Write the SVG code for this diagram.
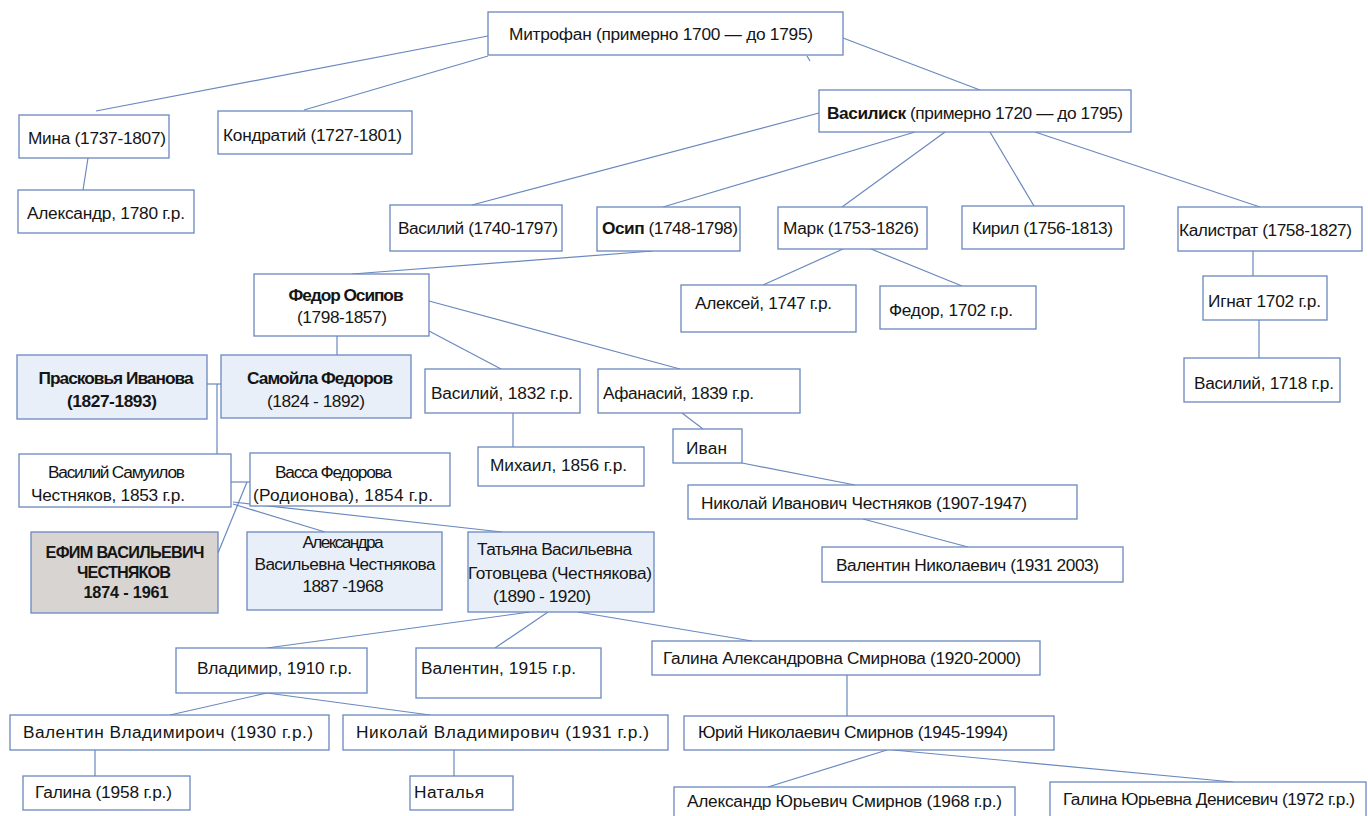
<svg xmlns="http://www.w3.org/2000/svg" width="1368" height="816" viewBox="0 0 1368 816">
<style>
rect{stroke:#6a88bf;stroke-width:1.3}
.w{fill:#ffffff}
.lb{fill:#e9eff8}
.g{fill:#d7d4d1}
text{font-family:"Liberation Sans",Arial,sans-serif;font-size:17.3px;fill:#151515}
.b{font-weight:bold}
.m{text-anchor:middle}
.cap{font-size:16.3px}
#connectors line{stroke:#6a88bf;stroke-width:1.2}
</style>
<g id="connectors">
<line x1="488" y1="36" x2="96" y2="111"/>
<line x1="488" y1="56" x2="304" y2="110"/>
<line x1="807" y1="56" x2="810" y2="61"/>
<line x1="843" y1="38" x2="980" y2="90"/>
<line x1="88" y1="158" x2="83" y2="190"/>
<line x1="819" y1="113" x2="472" y2="205"/>
<line x1="915" y1="132" x2="663" y2="207"/>
<line x1="945" y1="132" x2="842" y2="207"/>
<line x1="990" y1="132" x2="1034" y2="206"/>
<line x1="1035" y1="132" x2="1260" y2="207"/>
<line x1="843" y1="249" x2="763" y2="285"/>
<line x1="871" y1="249" x2="962" y2="286"/>
<line x1="1253" y1="251" x2="1253" y2="276"/>
<line x1="1259" y1="320" x2="1259" y2="358"/>
<line x1="653" y1="251" x2="352" y2="274"/>
<line x1="337" y1="336" x2="337" y2="355"/>
<line x1="429" y1="301" x2="680" y2="369"/>
<line x1="429" y1="331" x2="501" y2="369"/>
<line x1="207" y1="384" x2="221" y2="384"/>
<line x1="217" y1="384" x2="217" y2="454"/>
<line x1="513" y1="413" x2="513" y2="447"/>
<line x1="682" y1="413" x2="703" y2="429"/>
<line x1="742" y1="463" x2="855" y2="485"/>
<line x1="863" y1="519" x2="968" y2="547"/>
<line x1="231" y1="482" x2="250" y2="482"/>
<line x1="247" y1="482" x2="218" y2="553"/>
<line x1="233" y1="504" x2="325" y2="532"/>
<line x1="233" y1="502" x2="502" y2="532"/>
<line x1="530" y1="612" x2="267" y2="648"/>
<line x1="548" y1="612" x2="495" y2="648"/>
<line x1="578" y1="612" x2="752" y2="641"/>
<line x1="267" y1="693" x2="170" y2="715"/>
<line x1="267" y1="693" x2="430" y2="715"/>
<line x1="95" y1="750" x2="95" y2="776"/>
<line x1="454" y1="750" x2="454" y2="776"/>
<line x1="847" y1="675" x2="847" y2="716"/>
<line x1="887" y1="750" x2="768" y2="787"/>
<line x1="893" y1="750" x2="1233" y2="782"/>
</g>
<g id="mitrofan"><rect class="w" x="488" y="12" width="355" height="43"/><text x="509" y="40" textLength="304">Митрофан (примерно 1700 — до 1795)</text></g>
<g id="mina"><rect class="w" x="19" y="115" width="150" height="43"/><text x="28" y="144" textLength="138">Мина (1737-1807)</text></g>
<g id="kondratiy"><rect class="w" x="218" y="111" width="194" height="43"/><text x="223" y="141" textLength="179">Кондратий (1727-1801)</text></g>
<g id="aleksandr1780"><rect class="w" x="18" y="190" width="176" height="43"/><text x="27" y="219" textLength="158">Александр, 1780 г.р.</text></g>
<g id="vasilisk"><rect class="w" x="819" y="90" width="312" height="42"/><text x="827" y="119" textLength="296"><tspan class="b">Василиск</tspan> (примерно 1720 — до 1795)</text></g>
<g id="vasiliy1740"><rect class="w" x="390" y="205" width="172" height="46"/><text x="398" y="234" textLength="160">Василий (1740-1797)</text></g>
<g id="osip"><rect class="w" x="597" y="207" width="143" height="44"/><text x="602" y="234" textLength="136"><tspan class="b">Осип</tspan> (1748-1798)</text></g>
<g id="mark"><rect class="w" x="778" y="207" width="149" height="42"/><text x="783" y="234" textLength="136">Марк (1753-1826)</text></g>
<g id="kiril"><rect class="w" x="962" y="206" width="162" height="43"/><text x="972" y="234" textLength="141">Кирил (1756-1813)</text></g>
<g id="kalistrat"><rect class="w" x="1178" y="207" width="184" height="44"/><text x="1179" y="236" textLength="173">Калистрат (1758-1827)</text></g>
<g id="aleksey"><rect class="w" x="681" y="285" width="175" height="47"/><text x="695" y="309" textLength="137">Алексей, 1747 г.р.</text></g>
<g id="fedor1702"><rect class="w" x="880" y="286" width="156" height="43"/><text x="889" y="316" textLength="124">Федор, 1702 г.р.</text></g>
<g id="ignat"><rect class="w" x="1203" y="276" width="124" height="44"/><text x="1208" y="307" textLength="113">Игнат 1702 г.р.</text></g>
<g id="vasiliy1718"><rect class="w" x="1184" y="358" width="156" height="44"/><text x="1194" y="389" textLength="140">Василий, 1718 г.р.</text></g>
<g id="fedorosipov"><rect class="w" x="254" y="274" width="175" height="62"/><text class="b m" x="346" y="301" textLength="115">Федор Осипов</text><text class="m" x="342" y="323" textLength="90">(1798-1857)</text></g>
<g id="praskovya"><rect class="lb" x="17" y="355" width="190" height="64"/><text class="b m" x="116" y="384" textLength="155">Прасковья Иванова</text><text class="b m" x="112" y="407" textLength="90">(1827-1893)</text></g>
<g id="samoyla"><rect class="lb" x="221" y="355" width="190" height="63"/><text class="b m" x="320" y="384" textLength="146">Самойла Федоров</text><text class="m" x="316" y="407" textLength="98">(1824 - 1892)</text></g>
<g id="vasiliy1832"><rect class="w" x="425" y="369" width="155" height="44"/><text x="431" y="399" textLength="142">Василий, 1832 г.р.</text></g>
<g id="afanasiy"><rect class="w" x="598" y="369" width="202" height="44"/><text x="603" y="399" textLength="151">Афанасий, 1839 г.р.</text></g>
<g id="mikhail"><rect class="w" x="478" y="447" width="166" height="39"/><text x="490" y="471" textLength="137">Михаил, 1856 г.р.</text></g>
<g id="ivan"><rect class="w" x="673" y="429" width="69" height="34"/><text x="686" y="454" textLength="41">Иван</text></g>
<g id="nikolayivanovich"><rect class="w" x="688" y="485" width="389" height="34"/><text x="701" y="509" textLength="326">Николай Иванович Честняков (1907-1947)</text></g>
<g id="valentinnikolaevich"><rect class="w" x="822" y="547" width="301" height="35"/><text x="836" y="571" textLength="263">Валентин Николаевич (1931 2003)</text></g>
<g id="vasiliysamuilov"><rect class="w" x="19" y="454" width="212" height="53"/><text x="48" y="478" textLength="137">Василий Самуилов</text><text x="31" y="501" textLength="154">Честняков, 1853 г.р.</text></g>
<g id="vassa"><rect class="w" x="250" y="453" width="200" height="53"/><text x="275" y="478" textLength="117">Васса Федорова</text><text x="253" y="501" textLength="180">(Родионова), 1854 г.р.</text></g>
<g id="efim"><rect class="g" x="31" y="532" width="187" height="81"/><text class="b m cap" x="125" y="558" textLength="159">ЕФИМ ВАСИЛЬЕВИЧ</text><text class="b m cap" x="124" y="578" textLength="94">ЧЕСТНЯКОВ</text><text class="b m cap" x="126" y="598" textLength="85">1874 - 1961</text></g>
<g id="aleksandra"><rect class="lb" x="247" y="532" width="195" height="78"/><text class="m" x="343" y="548" textLength="81">Александра</text><text class="m" x="345" y="570" textLength="181">Васильевна Честнякова</text><text class="m" x="343" y="592" textLength="81">1887 -1968</text></g>
<g id="tatyana"><rect class="lb" x="468" y="532" width="186" height="80"/><text x="477" y="555" textLength="155">Татьяна Васильевна</text><text x="468" y="579" textLength="184">Готовцева (Честнякова)</text><text x="493" y="602" textLength="98">(1890 - 1920)</text></g>
<g id="vladimir"><rect class="w" x="176" y="648" width="191" height="45"/><text x="197" y="674" textLength="155">Владимир, 1910 г.р.</text></g>
<g id="valentin1915"><rect class="w" x="416" y="648" width="185" height="50"/><text x="421" y="674" textLength="155">Валентин, 1915 г.р.</text></g>
<g id="galinaaleksandrovna"><rect class="w" x="652" y="641" width="388" height="34"/><text x="663" y="664" textLength="358">Галина Александровна Смирнова (1920-2000)</text></g>
<g id="valentinvladimirovich"><rect class="w" x="10" y="715" width="319" height="35"/><text x="23" y="738" textLength="290">Валентин Владимироич (1930 г.р.)</text></g>
<g id="nikolayvladimirovich"><rect class="w" x="343" y="715" width="325" height="35"/><text x="356" y="738" textLength="293">Николай Владимирович (1931 г.р.)</text></g>
<g id="yuriy"><rect class="w" x="684" y="716" width="370" height="34"/><text x="698" y="738" textLength="310">Юрий Николаевич Смирнов (1945-1994)</text></g>
<g id="galina1958"><rect class="w" x="23" y="776" width="167" height="34"/><text x="35" y="798" textLength="137">Галина (1958 г.р.)</text></g>
<g id="natalya"><rect class="w" x="410" y="776" width="103" height="34"/><text x="414" y="798" textLength="70">Наталья</text></g>
<g id="aleksandryurievich"><rect class="w" x="674" y="787" width="341" height="40"/><text x="687" y="807" textLength="315">Александр Юрьевич Смирнов (1968 г.р.)</text></g>
<g id="galinayurievna"><rect class="w" x="1050" y="782" width="316" height="45"/><text x="1063" y="805" textLength="292">Галина Юрьевна Денисевич (1972 г.р.)</text></g>
</svg>
